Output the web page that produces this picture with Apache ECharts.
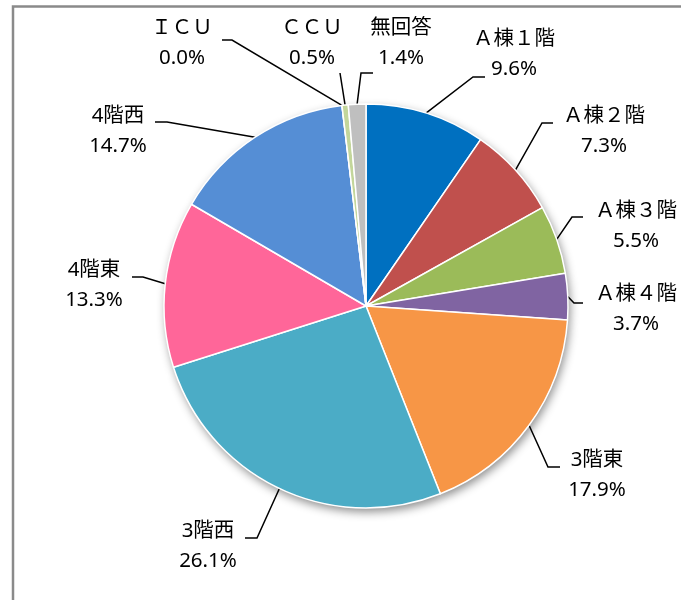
<!DOCTYPE html>
<html>
<head>
<meta charset="utf-8">
<script src="https://cdn.jsdelivr.net/npm/echarts@6/dist/echarts.min.js"></script>
<style>
html, body { margin: 0; padding: 0; background: #fff; }
#chart { width: 681px; height: 600px; }
</style>
</head>
<body>
<div id="chart"></div>
<script>
// data
const wards = ['Ａ棟１階', 'Ａ棟２階', 'Ａ棟３階', 'Ａ棟４階', '3階東', '3階西', '4階東', '4階西', 'ＩＣＵ', 'ＣＣＵ', '無回答'];
const shares = [9.6, 7.3, 5.5, 3.7, 17.9, 26.1, 13.3, 14.7, 0.0, 0.5, 1.4];
const colors = ['#0070C0', '#C0504D', '#9BBB59', '#8064A2', '#F79646', '#4BACC6', '#FF6699', '#558ED5', '#FFC000', '#C3D69B', '#BFBFBF'];

// label layout (block centre, leader elbow, leader end)
const labelAt = [[514, 54], [604, 131], [636, 226], [636, 309], [597, 475], [208, 546], [94, 285], [118, 131], [182, 43], [312, 43], [401, 43]];
const elbowAt = [[473, 77], [542, 123], [572, 217], [574, 303], [548, 467], [257, 538], [143, 277], [167, 122], [232, 40], [340, 73], [361, 73]];
const lineEnd = [[485, 77], [553, 123], [583, 217], [583, 303], [560, 467], [245, 538], [132, 277], [155, 122], [222, 40], [340, 73], [373, 73]];

const font = '"Noto Sans", "Noto Sans CJK JP", sans-serif';

const pieData = wards.map((name, i) => ({
    name: name,
    value: shares[i],
    itemStyle: { color: colors[i] }
}));

const chart = echarts.init(document.getElementById('chart'));
chart.setOption({
    animation: false,
    graphic: [{
        type: 'rect',
        shape: { x: 13, y: 6.5, width: 800, height: 800 },
        style: { fill: 'none', stroke: '#8a8a8a', lineWidth: 2.5 },
        silent: true
    }],
    series: [
        {
            // soft drop shadow behind the pie
            type: 'pie',
            center: [366, 306],
            radius: 202,
            silent: true,
            z: 1,
            label: { show: false },
            labelLine: { show: false },
            emphasis: { disabled: true },
            itemStyle: {
                color: '#fff',
                shadowBlur: 10,
                shadowOffsetX: 2,
                shadowOffsetY: 4,
                shadowColor: 'rgba(0,0,0,0.45)'
            },
            data: shares.map((v, i) => ({ name: wards[i], value: v }))
        },
        {
            type: 'pie',
            center: [366, 306],
            radius: 202,
            z: 2,
            avoidLabelOverlap: false,
            emphasis: { disabled: true },
            itemStyle: { borderColor: '#fff', borderWidth: 1.5 },
            label: {
                show: true,
                position: 'outside',
                fontFamily: font,
                fontSize: 20.5,
                lineHeight: 30,
                color: '#000',
                align: 'center',
                formatter: p => p.name + '\n' + p.value.toFixed(1) + '%'
            },
            labelLine: {
                show: true,
                length: 20,
                length2: 10,
                lineStyle: { color: '#000', width: 1.5 }
            },
            labelLayout: function (params) {
                const i = params.dataIndex;
                const start = params.labelLinePoints ? params.labelLinePoints[0] : elbowAt[i];
                return {
                    x: labelAt[i][0],
                    y: labelAt[i][1],
                    align: 'center',
                    verticalAlign: 'middle',
                    labelLinePoints: [start, elbowAt[i], lineEnd[i]]
                };
            },
            data: pieData
        }
    ]
});
</script>
</body>
</html>
